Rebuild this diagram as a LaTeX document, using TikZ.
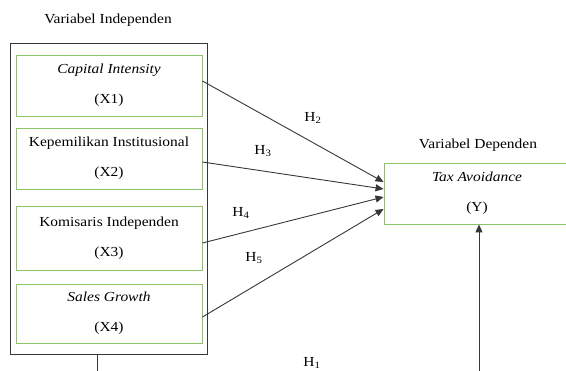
\documentclass[tikz,border=0pt]{standalone}
\usepackage{fontspec}
\setmainfont{Liberation Serif}[FakeStretch=1.12]
\usetikzlibrary{arrows.meta, positioning}
\definecolor{boxgreen}{RGB}{140,195,100}
\definecolor{linegray}{RGB}{55,55,55}

\begin{document}
\begin{tikzpicture}[x=1pt,y=-1pt,>={Triangle[length=8pt,width=7pt]}]
  \tikzstyle{var}=[draw=boxgreen,line width=0.9pt,minimum width=186pt,
                   align=center,font=\fontsize{13.8}{30}\selectfont]
  \tikzstyle{title}=[font=\fontsize{13.8}{16}\selectfont]
  \tikzstyle{hyp}=[font=\fontsize{13.8}{16}\selectfont]
  \tikzstyle{link}=[->,draw=linegray,line width=0.9pt]
  \clip (0,0) rectangle (566,371);

  \node[draw=linegray,line width=1pt,minimum width=197pt,minimum height=311pt] (indep) at (108.5,199.5) {};
  \node[title] (tindep) at (108,20) {Variabel Independen};
  \node[title] (tdep)   at (478,145) {Variabel Dependen};

  \node[var,minimum height=61pt] (x1) at (109,85.5)  {\textit{Capital Intensity}\\(X1)};
  \node[var,minimum height=61pt] (x2) at (109,158.5) {Kepemilikan Institusional\\(X2)};
  \node[var,minimum height=64pt] (x3) at (109,238)   {Komisaris Independen\\(X3)};
  \node[var,minimum height=59pt] (x4) at (109,313.5) {\textit{Sales Growth}\\(X4)};
  \node[var,minimum height=61pt] (y)  at (477,193.5) {\textit{Tax Avoidance}\\(Y)};

  \draw[link] ([yshift=4.5pt]x1.east)  -- ([yshift=11.5pt]y.west);
  \draw[link] ([yshift=-3.5pt]x2.east) -- ([yshift=4.5pt]y.west);
  \draw[link] ([yshift=-5pt]x3.east)   -- ([yshift=-3.5pt]y.west);
  \draw[link] ([yshift=-3.5pt]x4.east) -- ([yshift=-15.5pt]y.west);

  \node[hyp] (h2) at (313,118) {H\textsubscript{2}};
  \node[hyp] (h3) at (263,151) {H\textsubscript{3}};
  \node[hyp] (h4) at (241,213) {H\textsubscript{4}};
  \node[hyp] (h5) at (254,258) {H\textsubscript{5}};
  \node[hyp] (h1) at (312,363) {H\textsubscript{1}};

  % H1 runs below the frame
  \coordinate (low1) at (97,385);
  \coordinate (low2) at (479,385);
  \draw[link] (indep.south -| low1) -- (low1) -- (low2) -- (y.south -| low2);
\end{tikzpicture}
\end{document}
